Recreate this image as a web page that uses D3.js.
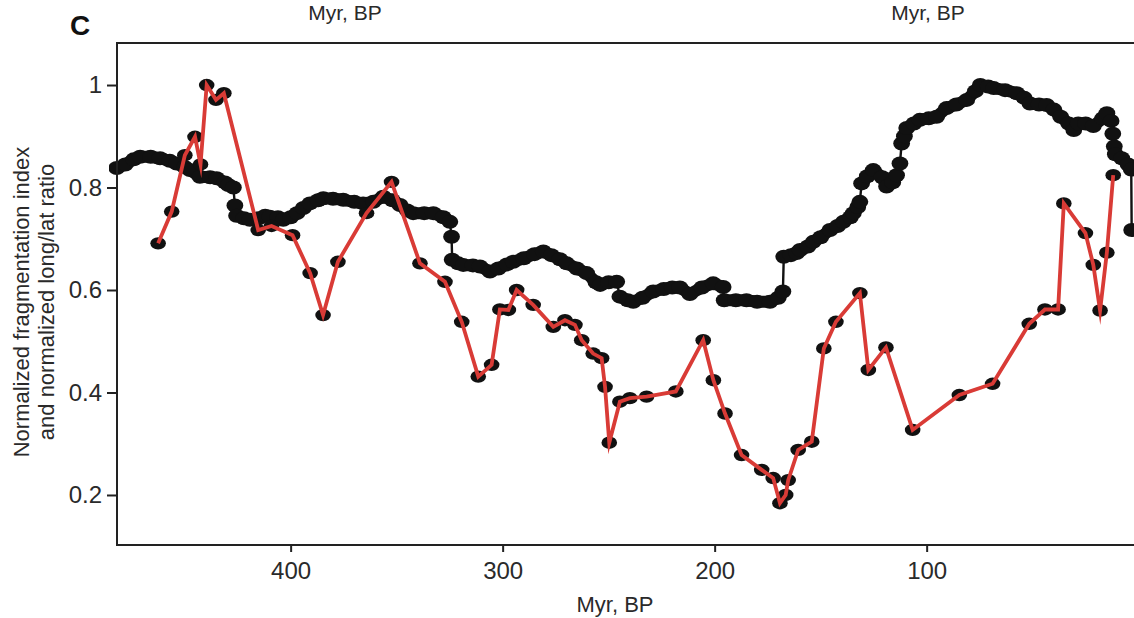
<!DOCTYPE html>
<html>
<head>
<meta charset="utf-8">
<script src="https://cdn.jsdelivr.net/npm/d3@7"></script>
<style>
  html, body { margin: 0; padding: 0; background: #fff; }
  svg { display: block; }
  text { font-family: "Liberation Sans", Arial, Helvetica, sans-serif; fill: #2a2a2a; }
</style>
</head>
<body>
<svg id="chart" width="1134" height="618"></svg>
<script>
// ---------- data (Myr BP, normalized value) ----------
const blackX = [482, 478, 474, 471, 466, 461.6, 457, 453.8, 450, 447.5, 442.8, 438, 434.9, 431, 429.4, 427,
  426.3, 425.5, 422, 419.2, 415, 412, 409.8, 406, 403.5, 400, 397, 394, 390.9, 387, 384.6, 380, 375.2, 370,
  365.8, 361, 356.3, 352, 348.4, 345, 342.2, 337, 332.7, 328, 324.9, 324.1,
  323.8, 321, 318.6, 314, 310.7, 306, 302, 298, 295, 290, 285, 280.8, 277, 273, 269.8, 265, 260.4, 256, 254,
  250, 246.2, 244.7, 241, 238.4, 234, 229, 224, 220, 216.4, 211.7, 206, 200.7, 196,
  195.5, 190, 185, 180, 173.9, 170, 167.8,
  167.4, 164, 161.3, 159.7, 156, 153.5, 150, 145.6, 142, 139.3, 136, 134.6, 132.5, 131.5,
  130.7, 128, 125.2, 121, 118.9, 116, 114.2, 112.6,
  111.8, 110.5, 109.4, 106, 103.2, 99, 95.3, 90.6, 86, 81.1, 77, 74.7, 71, 68.4, 63, 57.5, 54, 51.3, 47,
  43.4, 40, 36.8, 33, 30.6, 28.5, 25, 21.4, 17, 15, 13, 12.2, 11.5, 11, 8, 5, 3.5,
  3.3];
const blackY = [0.838, 0.845, 0.855, 0.86, 0.86, 0.857, 0.852, 0.847, 0.84, 0.834, 0.821, 0.82, 0.818, 0.81, 0.805, 0.8,
  0.765, 0.745, 0.74, 0.737, 0.74, 0.745, 0.743, 0.742, 0.737, 0.742, 0.75, 0.76, 0.769, 0.775, 0.779, 0.778, 0.776, 0.772,
  0.769, 0.772, 0.782, 0.775, 0.766, 0.755, 0.75, 0.75, 0.75, 0.742, 0.733, 0.704,
  0.659, 0.652, 0.649, 0.648, 0.646, 0.636, 0.642, 0.65, 0.655, 0.662, 0.67, 0.675, 0.668, 0.66, 0.652, 0.642, 0.633, 0.615, 0.61,
  0.615, 0.616, 0.587, 0.58, 0.577, 0.585, 0.597, 0.602, 0.605, 0.605, 0.592, 0.605, 0.613, 0.606,
  0.58, 0.58, 0.58, 0.577, 0.577, 0.585, 0.597,
  0.665, 0.668, 0.672, 0.678, 0.685, 0.694, 0.703, 0.717, 0.725, 0.733, 0.742, 0.75, 0.762, 0.772,
  0.808, 0.822, 0.834, 0.82, 0.802, 0.81, 0.824, 0.847,
  0.886, 0.9, 0.916, 0.925, 0.932, 0.935, 0.938, 0.955, 0.962, 0.971, 0.988, 1.0, 0.997, 0.994, 0.99, 0.984, 0.975, 0.964, 0.962,
  0.961, 0.952, 0.938, 0.925, 0.912, 0.925, 0.925, 0.92, 0.935, 0.945, 0.93, 0.905, 0.88, 0.865, 0.857, 0.845, 0.835,
  0.717];

const redX = [462.5, 456.1, 449.9, 445.1, 442.5, 439.6, 435.2, 431.5, 415.3, 409, 399.1, 390.8, 384.7, 377.7, 364.2,
  352.4, 339, 327.2, 319.3, 311.5, 305.2, 301.3, 297.3, 293.4, 285.6, 276.1, 270.6, 265.9, 262.7, 257.3, 253.3,
  251.7, 249.7, 244.7, 240, 232.1, 218.3, 205.4, 200.6, 195.1, 187.3, 177.8, 172.4, 169.2, 166.5, 165.3,
  160.6, 154.2, 148.5, 142.8, 131.5, 127.5, 119.2, 106.6, 84.6, 68.9, 51.6, 44.2, 38, 35.3, 25.1, 21.4, 18.2,
  15, 12];
const redY = [0.691, 0.753, 0.863, 0.899, 0.845, 1.0, 0.971, 0.984, 0.717, 0.725, 0.707, 0.633, 0.551, 0.655, 0.75,
  0.811, 0.652, 0.616, 0.538, 0.431, 0.454, 0.562, 0.561, 0.6, 0.571, 0.528, 0.541, 0.532, 0.502, 0.476, 0.467,
  0.411, 0.302, 0.382, 0.389, 0.392, 0.402, 0.502, 0.424, 0.359, 0.278, 0.249, 0.233, 0.184, 0.2, 0.229,
  0.288, 0.304, 0.486, 0.538, 0.594, 0.444, 0.488, 0.327, 0.395, 0.417, 0.534, 0.562, 0.562, 0.769, 0.711, 0.649, 0.56,
  0.673, 0.824];

const xTicks = [400, 300, 200, 100];
const yTicks = [0.2, 0.4, 0.6, 0.8, 1];
const yTickLabels = ["0.2", "0.4", "0.6", "0.8", "1"];
const xDomain = [481.9, 2.2];
const yDomain = [0.1024, 1.082];

// ---------- drawing ----------
const svg = d3.select("#chart");
const L = 117, R = 1134, T = 43, B = 545;
const x = d3.scaleLinear().domain(xDomain).range([L, R]);
const y = d3.scaleLinear().domain(yDomain).range([B, T]);

// labels of the panels above (fully inside the picture)
svg.append("text").attr("x", 345).attr("y", 20).attr("text-anchor", "middle")
  .attr("font-size", 21).text("Myr, BP");
svg.append("text").attr("x", 928).attr("y", 20).attr("text-anchor", "middle")
  .attr("font-size", 21).text("Myr, BP");

// panel letter
svg.append("text").attr("x", 70).attr("y", 35).attr("font-size", 28)
  .attr("font-weight", "bold").style("fill", "#111").text("C");

const plot = svg.append("g");
plot.append("clipPath").attr("id", "clip").append("rect")
  .attr("x", L - 8).attr("y", T).attr("width", R - L + 20).attr("height", B - T);
const g = plot.append("g").attr("clip-path", "url(#clip)");

const black = blackX.map((d, i) => ({ x: d, y: blackY[i] }));
const red = redX.map((d, i) => ({ x: d, y: redY[i] }));

// thick body of the dense black series, broken at steep jumps
const segs = [];
let cur = [black[0]];
for (let i = 1; i < black.length; i++) {
  const dx = Math.abs(x(black[i].x) - x(black[i - 1].x));
  const dy = Math.abs(y(black[i].y) - y(black[i - 1].y));
  if (dy > 8 && dy > 2.5 * dx) { segs.push(cur); cur = []; }
  cur.push(black[i]);
}
segs.push(cur);
const line = d3.line().x(d => x(d.x)).y(d => y(d.y));
g.selectAll("path.thick").data(segs).join("path").attr("class", "thick")
  .attr("d", line).attr("fill", "none").attr("stroke", "#111")
  .attr("stroke-width", 12).attr("stroke-linejoin", "round").attr("stroke-linecap", "round");
g.append("path").datum(black).attr("d", line).attr("fill", "none")
  .attr("stroke", "#111").attr("stroke-width", 2.4).attr("stroke-linejoin", "miter");
g.selectAll("ellipse.bm").data(black).join("ellipse").attr("class", "bm")
  .attr("cx", d => x(d.x)).attr("cy", d => y(d.y))
  .attr("rx", 8.4).attr("ry", 7).attr("fill", "#111");

// red series: black markers + red line on top
g.selectAll("ellipse.rm").data(red).join("ellipse").attr("class", "rm")
  .attr("cx", d => x(d.x)).attr("cy", d => y(d.y))
  .attr("rx", 7.8).attr("ry", 6.2).attr("fill", "#111");
g.append("path").datum(red).attr("d", line).attr("fill", "none")
  .attr("stroke", "#d93b36").attr("stroke-width", 3.8)
  .attr("stroke-linejoin", "miter").attr("stroke-miterlimit", 10);

// frame
svg.append("path").attr("d", `M${R + 5},${T}H${L}V${B}H${R + 5}`)
  .attr("fill", "none").attr("stroke", "#222").attr("stroke-width", 2);

// axes
const xAxis = d3.axisBottom(x).tickValues(xTicks).tickSize(7).tickPadding(10).tickFormat(d3.format("d"));
const gx = svg.append("g").attr("transform", `translate(0,${B})`).call(xAxis);
gx.select(".domain").remove();
gx.selectAll(".tick line").attr("stroke", "#222").attr("stroke-width", 2);
gx.selectAll(".tick text").attr("font-size", 24).style("fill", "#2a2a2a")
  .attr("font-family", "'Liberation Sans', Arial, sans-serif");

const yAxis = d3.axisLeft(y).tickValues(yTicks).tickSize(10).tickPadding(5)
  .tickFormat((d, i) => yTickLabels[i]);
const gy = svg.append("g").attr("transform", `translate(${L},0)`).call(yAxis);
gy.select(".domain").remove();
gy.selectAll(".tick line").attr("stroke", "#222").attr("stroke-width", 2);
gy.selectAll(".tick text").attr("font-size", 24).style("fill", "#2a2a2a")
  .attr("font-family", "'Liberation Sans', Arial, sans-serif");

// axis titles
svg.append("text").attr("x", 615).attr("y", 612).attr("text-anchor", "middle")
  .attr("font-size", 22).text("Myr, BP");
const yt = svg.append("text").attr("transform", "translate(0,302) rotate(-90)")
  .attr("text-anchor", "middle").attr("font-size", 22);
yt.append("tspan").attr("x", 0).attr("y", 29).text("Normalized fragmentation index");
yt.append("tspan").attr("x", 0).attr("y", 54).text("and normalized long/lat ratio");
</script>
</body>
</html>
